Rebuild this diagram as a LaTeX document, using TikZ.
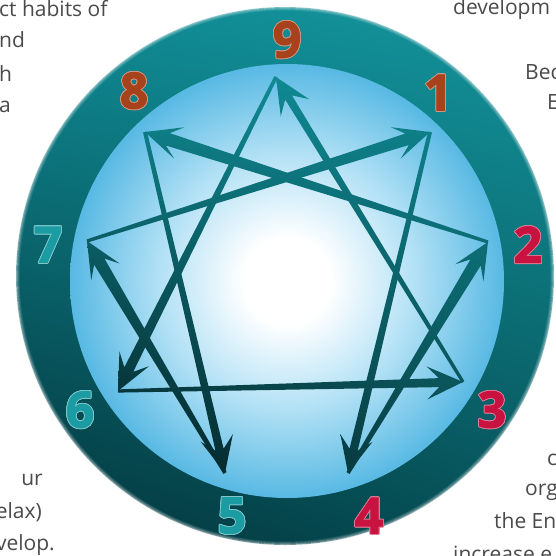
\documentclass[tikz,border=0pt]{standalone}
\usepackage{fontspec}
\setmainfont{Open Sans}
\newfontfamily\numfont[FakeBold=2]{Open Sans Bold}
\usepackage{contour}
\contourlength{0.8pt}
\usetikzlibrary{calc,shadings}
\definecolor{rul}{HTML}{0F8A93}
\definecolor{rur}{HTML}{14959D}
\definecolor{rll}{HTML}{03333A}
\definecolor{rlr}{HTML}{065158}
\definecolor{sky}{HTML}{58B9E3}
\definecolor{skymid}{HTML}{B0E0F5}
\definecolor{rust}{HTML}{A8421C}
\definecolor{crim}{HTML}{C81240}
\definecolor{tealnum}{HTML}{1A9CA2}
\definecolor{txt}{HTML}{4A4A4A}
\definecolor{aul}{HTML}{11909A}
\definecolor{aur}{HTML}{0F8A93}
\definecolor{all}{HTML}{021518}
\definecolor{alr}{HTML}{0A4A50}
\pgfdeclareradialshading{innerglow}{\pgfpoint{0bp}{0bp}}{color(0bp)=(white); color(5bp)=(white); color(15bp)=(skymid); color(25bp)=(sky); color(50bp)=(sky)}
\newcommand\enarrow[4]{%
  \coordinate (hn) at ($(#2)!24pt!(#1)$);
  \coordinate (hb) at ($(#2)!36pt!(#1)$);
  \begin{scope}
  \clip ($(#1)!#3!90:(#2)$) -- ($(hn)!#4!90:(#2)$) -- ($(hb)!16.5pt!90:(#2)$) -- (#2)
     -- ($(hb)!16.5pt!-90:(#2)$) -- ($(hn)!#4!-90:(#2)$) -- ($(#1)!#3!-90:(#2)$) -- cycle;
  \shade[arrowshade] (70,60) rectangle (505,490);
  \end{scope}}
\begin{document}
\begin{tikzpicture}[x=1pt,y=-1pt,
  numlab/.style={font=\fontsize{50}{50}\numfont, inner sep=0pt},
  bodytext/.style={font=\fontsize{21}{21}\selectfont, text=txt, inner sep=0pt},
  arrowshade/.style={upper left=aul, upper right=aur, lower left=all, lower right=alr}]
\useasboundingbox (0,0) rectangle (556,556);
\clip (0,0) rectangle (556,556);
% ring
\coordinate (c) at (285,276);
\shade[upper left=rul, upper right=rur, lower left=rll, lower right=rlr] (c) circle[radius=269pt];
\foreach \r/\o in {269/0.55,268/0.35,267/0.2,266/0.1}
  \draw[white, opacity=\o, line width=1.1pt] (c) circle[radius=\r pt];
% inner disc
\coordinate (ci) at (287,281);
\shade[shading=innerglow] (ci) circle[radius=217pt];
% vertices
\coordinate (v9) at (276,77);
\coordinate (v1) at (430,132);
\coordinate (v2) at (488,242);
\coordinate (v3) at (463,382);
\coordinate (v4) at (348,473);
\coordinate (v5) at (225,473);
\coordinate (v6) at (118,391);
\coordinate (v7) at (87,241);
\coordinate (v8) at (145,132);
% arrows
\enarrow{v9}{v6}{1.8pt}{5pt}
\enarrow{v6}{v3}{1.6pt}{4.5pt}
\enarrow{v3}{v9}{1.6pt}{4pt}
\enarrow{v1}{v4}{2pt}{4.2pt}
\enarrow{v4}{v2}{1.8pt}{6pt}
\enarrow{v2}{v8}{1.6pt}{6.5pt}
\enarrow{v8}{v5}{2pt}{4.2pt}
\enarrow{v5}{v7}{1.8pt}{6pt}
\enarrow{v7}{v1}{1.6pt}{6pt}
% numbers
\node[numlab, text=rust] (n9) at (287,40) {\contour{rust!55!white}{9}};
\node[numlab, text=rust] (n1) at (438,93) {\contour{rust!55!white}{1}};
\node[numlab, text=rust] (n8) at (134,91) {\contour{rust!55!white}{8}};
\node[numlab, text=crim] (n2) at (528,245) {\contour{crim!55!white}{2}};
\node[numlab, text=crim] (n3) at (492,410) {\contour{crim!55!white}{3}};
\node[numlab, text=crim] (n4) at (369,516) {\contour{crim!55!white}{4}};
\node[numlab, text=tealnum] (n5) at (232,516) {\contour{tealnum!55!white}{5}};
\node[numlab, text=tealnum] (n6) at (80,410) {\contour{tealnum!55!white}{6}};
\node[numlab, text=tealnum] (n7) at (48,245) {\contour{tealnum!55!white}{7}};
% surrounding text
\node[bodytext, anchor=base west] (t1) at (-1,17) {ct habits of};
\node[bodytext, anchor=base west] (t2) at (-1,48) {nd};
\node[bodytext, anchor=base west] (t3) at (-1,82) {h};
\node[bodytext, anchor=base west] (t4) at (-1,113) {a};
\node[bodytext, anchor=base west] (t5) at (453,15) {developm};
\node[bodytext, anchor=base west] (t6) at (525,80) {Bec};
\node[bodytext, anchor=base west] (t7) at (547,110) {E};
\node[bodytext, anchor=base east] (t8) at (43,485) {ur};
\node[bodytext, anchor=base east] (t9) at (42,518) {elax)};
\node[bodytext, anchor=base east] (t10) at (55,550) {velop.};
\node[bodytext, anchor=base west] (t11) at (547,465) {c};
\node[bodytext, anchor=base west] (t12) at (525,495) {org};
\node[bodytext, anchor=base west] (t13) at (494,528) {the En};
\node[bodytext, anchor=base west] (t14) at (453,561) {increase e};
\end{tikzpicture}
\end{document}
